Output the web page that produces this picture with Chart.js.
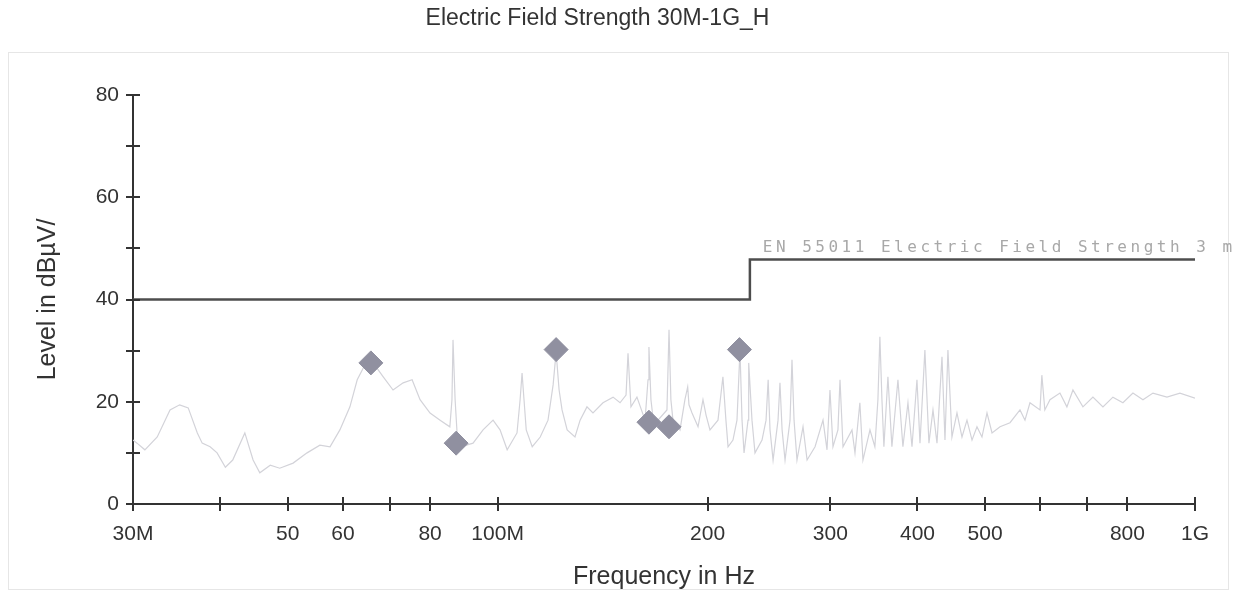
<!DOCTYPE html>
<html lang="en">
<head>
<meta charset="UTF-8">
<title>Electric Field Strength 30M-1G_H</title>
<script src="https://cdn.jsdelivr.net/npm/chart.js"></script>
<style>
  html, body { margin: 0; padding: 0; background: #fff; overflow: hidden; }
  #grafico { display: block; }
</style>
</head>
<body>
<canvas id="grafico" width="1235" height="591"></canvas>
<script>
// measured trace (MHz / dBuV)
const traceFreq = [30.0, 30.4, 31.2, 32.5, 33.9, 35.0, 36.0, 37.1, 37.7, 38.7, 39.6, 40.7, 41.7, 43.4, 44.6, 45.6, 47.2, 48.7, 50.9, 53.3,
  55.6, 57.5, 59.4, 61.4, 62.9, 64.5, 65.8, 67.1, 68.5, 70.8, 73.2, 75.4, 77.4, 80.0, 82.7, 85.4, 86.0, 86.3, 86.9, 87.5,
  88.6, 92.2, 95.3, 98.5, 100.8, 103.2, 106.6, 107.7, 108.4, 109.1, 109.9, 112.1, 115.1, 118.1, 120.1, 121.3, 122.5, 123.7, 125.8, 129.1,
  131.3, 134.3, 137.0, 141.6, 146.4, 149.8, 152.8, 153.8, 155.3, 158.4, 162.7, 164.3, 164.8, 165.9, 167.0, 169.8, 174.9, 176.1, 177.2, 178.4,
  182.6, 185.6, 187.3, 188.1, 190.0, 193.8, 197.0, 199.0, 201.6, 207.0, 210.4, 212.5, 214.0, 217.5, 220.4, 222.6, 224.1, 225.6, 228.6, 229.1,
  231.6, 233.9, 239.4, 242.6, 244.3, 245.8, 248.3, 252.4, 254.0, 255.8, 258.3, 262.6, 264.3, 266.1, 268.7, 274.1, 277.8, 285.2, 292.8, 296.7,
  299.6, 302.6, 307.6, 309.7, 312.8, 322.2, 325.4, 330.7, 334.1, 341.9, 347.5, 351.0, 353.3, 355.7, 358.0, 362.8, 367.6, 375.0, 381.2, 387.6,
  392.8, 399.3, 403.3, 409.9, 415.4, 421.0, 426.6, 433.7, 438.0, 442.3, 448.2, 455.7, 463.3, 471.0, 478.9, 486.8, 494.9, 503.2, 511.6, 525.3,
  542.9, 561.1, 570.4, 579.9, 599.4, 603.1, 609.1, 619.5, 640.2, 655.1, 668.3, 690.7, 713.9, 737.9, 762.6, 788.2, 814.7, 842.1, 870.4, 911.5,
  951.5, 1000];
const traceLevel = [12.5, 11.9, 10.6, 13.1, 18.4, 19.4, 18.8, 13.9, 11.9, 11.2, 10.0, 7.2, 8.6, 13.9, 8.6, 6.1, 7.6, 7.0, 8.0, 10.0,
  11.5, 11.2, 14.5, 19.0, 24.3, 27.2, 27.6, 26.6, 24.9, 22.3, 23.7, 24.3, 20.4, 17.8, 16.4, 15.1, 20.4, 32.1, 20.4, 13.5,
  11.2, 11.9, 14.5, 16.4, 14.5, 10.6, 13.9, 20.4, 25.6, 20.4, 14.5, 11.2, 13.1, 16.4, 23.3, 29.7, 22.3, 18.4, 14.5, 13.1,
  16.4, 19.0, 17.8, 19.8, 20.9, 19.8, 21.3, 29.5, 19.0, 20.9, 16.4, 24.3, 30.7, 20.4, 17.0, 16.4, 18.4, 34.1, 20.4, 16.4,
  14.5, 20.4, 22.9, 19.4, 17.8, 15.1, 20.4, 17.4, 14.5, 16.4, 24.9, 16.4, 11.2, 12.5, 16.4, 30.1, 16.4, 10.0, 16.4, 27.6,
  16.4, 10.0, 12.5, 16.4, 24.3, 14.5, 8.6, 16.4, 23.7, 14.5, 8.6, 16.4, 28.2, 16.4, 8.6, 15.1, 8.6, 11.2, 16.4, 10.6,
  22.3, 11.2, 14.5, 24.3, 11.2, 14.5, 10.0, 19.8, 8.6, 14.5, 11.2, 20.4, 32.7, 20.4, 11.2, 24.9, 11.2, 24.3, 11.2, 19.8,
  11.2, 24.3, 11.9, 30.1, 11.9, 18.4, 11.9, 28.8, 12.5, 30.1, 13.1, 17.8, 13.1, 16.4, 12.5, 15.1, 13.1, 17.8, 13.9, 15.1,
  15.9, 18.4, 16.4, 19.8, 18.4, 25.2, 18.4, 20.4, 21.7, 19.0, 22.3, 19.0, 20.9, 19.0, 20.9, 19.8, 21.7, 20.4, 21.7, 20.9,
  21.7, 20.7];

// final peaks (diamonds)
const peakFreq = [65.8, 87.2, 121.3, 164.8, 176.1, 222.2];
const peakLevel = [27.6, 11.9, 30.2, 16.0, 15.1, 30.2];

// EN 55011 limit
const limitFreq = [30, 230, 230, 1000];
const limitLevel = [40, 40, 47.8, 47.8];
const limitLabel = 'EN 55011 Electric Field Strength 3 m';

const xTicks = [30, 40, 50, 60, 70, 80, 100, 200, 300, 400, 500, 600, 700, 800, 1000];
const xTickLabels = ['30M', '', '50', '60', '', '80', '100M', '200', '300', '400', '500', '', '', '800', '1G'];
const yTicks = [0, 10, 20, 30, 40, 50, 60, 70, 80];
const yTickLabels = ['0', '', '20', '', '40', '', '60', '', '80'];

const fonte = 'Liberation Sans, Arial, sans-serif';

const toPoints = (xs, ys) => xs.map((x, i) => ({x: x, y: ys[i]}));

// background + faint frame
const moldura = {
  id: 'moldura',
  beforeDraw(chart) {
    const c = chart.ctx;
    c.save();
    c.fillStyle = '#fff';
    c.fillRect(0, 0, chart.width, chart.height);
    c.strokeStyle = '#e6e6e6';
    c.lineWidth = 1;
    c.strokeRect(8.5, 52.5, 1220, 537);
    c.restore();
  }
};

// tick stubs inside the plot + limit label
const extras = {
  id: 'extras',
  afterDraw(chart) {
    const c = chart.ctx;
    const xs = chart.scales.x, ys = chart.scales.y;
    const a = chart.chartArea;
    c.save();
    c.strokeStyle = '#333';
    c.lineWidth = 2;
    c.beginPath();
    xs.ticks.forEach(t => {
      const px = Math.round(xs.getPixelForValue(t.value));
      c.moveTo(px, a.bottom);
      c.lineTo(px, a.bottom - 7);
    });
    ys.ticks.forEach(t => {
      const py = Math.round(ys.getPixelForValue(t.value));
      c.moveTo(a.left, py);
      c.lineTo(a.left + 7, py);
    });
    c.stroke();

    c.font = '16px "DejaVu Sans Mono", monospace';
    c.letterSpacing = '3.5px';
    c.fillStyle = '#a8a8a8';
    c.textBaseline = 'alphabetic';
    c.fillText(limitLabel, xs.getPixelForValue(240), ys.getPixelForValue(49.3));
    c.restore();
  }
};

new Chart(document.getElementById('grafico'), {
  data: {
    datasets: [
      {
        type: 'scatter',
        data: toPoints(peakFreq, peakLevel),
        pointStyle: 'rectRot',
        pointRadius: 12,
        backgroundColor: '#9090a0',
        borderColor: '#9090a0',
        order: 0
      },
      {
        type: 'line',
        data: toPoints(limitFreq, limitLevel),
        borderColor: '#4d4d4d',
        borderWidth: 2.5,
        pointRadius: 0,
        order: 1
      },
      {
        type: 'line',
        data: toPoints(traceFreq, traceLevel),
        borderColor: '#d3d3d9',
        borderWidth: 1.2,
        pointRadius: 0,
        tension: 0,
        order: 2
      }
    ]
  },
  options: {
    responsive: false,
    animation: false,
    devicePixelRatio: 1,
    layout: { padding: { top: 0, right: 40, left: 0, bottom: 0 } },
    plugins: {
      legend: { display: false },
      tooltip: { enabled: false },
      title: {
        display: true,
        text: 'Electric Field Strength 30M-1G_H',
        color: '#333',
        font: { family: fonte, size: 23, weight: 'normal' },
        padding: { top: 5, bottom: 62.4 }
      }
    },
    scales: {
      x: {
        type: 'logarithmic',
        min: 30,
        max: 1000,
        afterBuildTicks: s => { s.ticks = xTicks.map(v => ({value: v})); },
        afterFit: s => { s.height = 87; },
        ticks: {
          autoSkip: false,
          maxRotation: 0,
          padding: 11,
          color: '#333',
          font: { family: fonte, size: 21 },
          callback: v => xTickLabels[xTicks.indexOf(v)]
        },
        grid: { drawOnChartArea: false, tickLength: 7, color: '#333', lineWidth: 2 },
        border: { color: '#333', width: 2 },
        title: {
          display: true,
          text: 'Frequency in Hz',
          color: '#333',
          font: { family: fonte, size: 25 },
          padding: { top: 0, bottom: -1 }
        }
      },
      y: {
        type: 'linear',
        min: 0,
        max: 80,
        afterBuildTicks: s => { s.ticks = yTicks.map(v => ({value: v})); },
        afterFit: s => { s.width = 133; },
        ticks: {
          padding: 7,
          color: '#333',
          font: { family: fonte, size: 21 },
          callback: v => yTickLabels[yTicks.indexOf(v)]
        },
        grid: { drawOnChartArea: false, tickLength: 7, color: '#333', lineWidth: 2 },
        border: { color: '#333', width: 2 },
        title: {
          display: true,
          text: 'Level in dBµV/',
          color: '#333',
          font: { family: fonte, size: 25 },
          padding: { top: 33, bottom: 0 }
        }
      }
    }
  },
  plugins: [moldura, extras]
});
</script>
</body>
</html>
